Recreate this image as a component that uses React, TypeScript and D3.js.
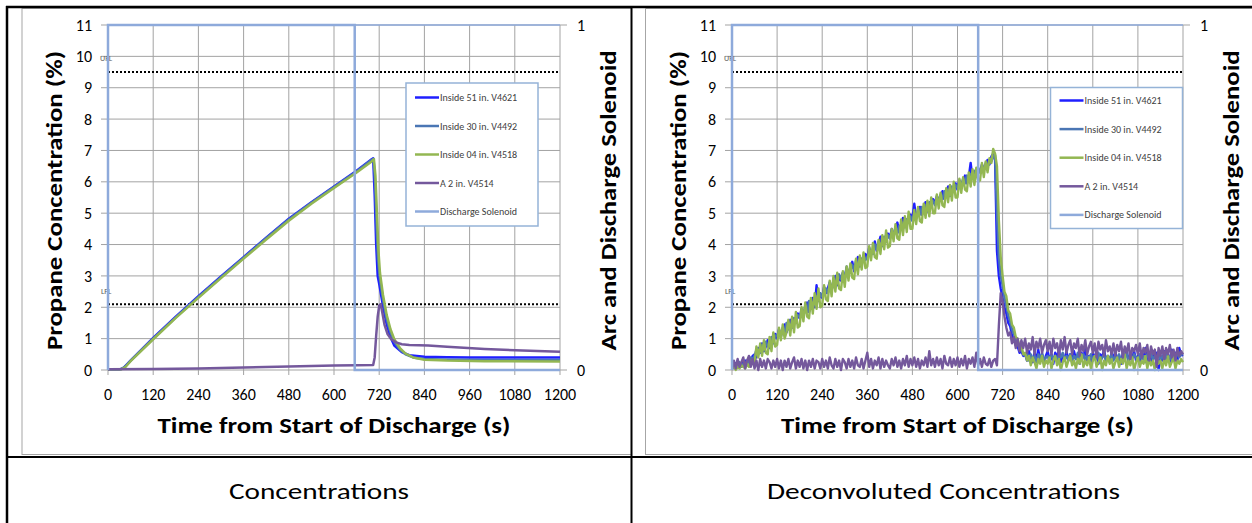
import React from 'react';
import * as d3 from 'd3';

// ---------- data ----------
const TIME_TICKS = [0, 120, 240, 360, 480, 600, 720, 840, 960, 1080, 1200];
const CONC_TICKS = [0, 1, 2, 3, 4, 5, 6, 7, 8, 9, 10, 11];
const SOLENOID_TICKS = [0, 1];
const UFL = 9.5;
const LFL = 2.1;

const SERIES_NAMES = ['Inside 51 in. V4621', 'Inside 30 in. V4492', 'Inside 04 in. V4518', 'A 2 in. V4514'];
const SOLENOID_NAME = 'Discharge Solenoid';
const SERIES_COLORS = ['#1f1fff', '#4a76b4', '#93b752', '#74589c'];
const SOLENOID_COLOR = '#8eaadb';

// Discharge solenoid state (secondary axis, 0..1)
const SOLENOID: [number, number][] = [[0, 0], [0, 1], [655, 1], [655, 0], [1200, 0]];

// Left chart: measured concentrations [time s, %]
const C_IN51: [number, number][] = [[0, 0.02], [30, 0.02], [40, 0.05], [60, 0.3], [120, 1.02], [180, 1.7], [240, 2.35], [300, 2.98], [360, 3.6], [420, 4.22], [480, 4.82], [540, 5.35], [600, 5.85], [660, 6.35], [700, 6.72], [704, 6.75], [708, 5.6], [712, 4.0], [716, 3.0], [720, 2.75], [730, 2.05], [740, 1.45], [750, 1.05], [760, 0.78], [780, 0.57], [800, 0.47], [840, 0.42], [900, 0.41], [960, 0.4], [1080, 0.4], [1200, 0.4]];
const C_IN30: [number, number][] = [[0, 0.02], [33, 0.02], [45, 0.1], [60, 0.3], [120, 1.0], [180, 1.68], [240, 2.33], [300, 2.96], [360, 3.58], [420, 4.2], [480, 4.8], [540, 5.33], [600, 5.83], [660, 6.33], [700, 6.7], [705, 6.73], [709, 6.0], [713, 4.6], [717, 3.5], [722, 2.9], [730, 2.25], [740, 1.62], [750, 1.2], [760, 0.9], [775, 0.65], [790, 0.5], [810, 0.4], [840, 0.35], [900, 0.33], [1000, 0.32], [1200, 0.32]];
const C_IN04: [number, number][] = [[0, 0.02], [35, 0.02], [45, 0.08], [60, 0.28], [120, 0.98], [180, 1.66], [240, 2.3], [300, 2.93], [360, 3.55], [420, 4.16], [480, 4.76], [540, 5.3], [600, 5.8], [660, 6.3], [700, 6.65], [706, 6.72], [710, 6.2], [714, 5.0], [718, 3.8], [722, 3.1], [730, 2.4], [740, 1.75], [750, 1.3], [760, 0.98], [775, 0.7], [790, 0.52], [810, 0.4], [840, 0.33], [900, 0.3], [1000, 0.28], [1200, 0.27]];
const C_A2: [number, number][] = [[0, 0.02], [120, 0.03], [240, 0.05], [360, 0.08], [480, 0.11], [600, 0.14], [660, 0.15], [704, 0.16], [708, 0.4], [712, 1.1], [716, 1.7], [720, 2.05], [724, 2.1], [728, 1.85], [734, 1.45], [742, 1.15], [752, 0.98], [765, 0.88], [780, 0.82], [800, 0.8], [850, 0.78], [900, 0.74], [1000, 0.67], [1100, 0.62], [1200, 0.58]];

// Right chart: deconvoluted concentrations, one reading every 5 s from 0 to 1200 s (12 per row = 60 s)
const D_TIMES = d3.range(0, 1201, 5);
const D_IN51 = [
  0.2, 0.25, 0.15, 0.3, 0.2, 0.1, 0.25, 0.3, 0.15, 0.35, 0.3, 0.45,
  0.5, 0.4, 0.7, 0.55, 0.85, 0.6, 0.75, 0.95, 0.7, 1.0, 0.85, 1.15,
  1.0, 1.3, 1.1, 1.25, 1.45, 1.2, 1.4, 1.6, 1.35, 1.65, 1.5, 1.8,
  1.65, 1.95, 1.75, 1.9, 2.15, 1.85, 2.1, 2.3, 2.0, 2.7, 2.2, 2.4,
  2.3, 2.65, 2.45, 2.6, 2.8, 2.55, 2.75, 3.0, 2.7, 2.95, 2.85, 3.1,
  2.95, 3.25, 3.05, 3.2, 3.45, 3.15, 3.35, 3.6, 3.3, 3.55, 3.45, 3.7,
  3.55, 3.9, 3.7, 3.85, 4.1, 3.8, 4.0, 4.25, 3.95, 4.2, 4.1, 4.35,
  4.2, 4.5, 4.3, 4.45, 4.7, 4.4, 4.6, 4.85, 4.55, 4.8, 4.7, 4.95,
  4.8, 5.3, 4.85, 5.0, 5.2, 4.95, 5.15, 5.35, 5.05, 5.3, 5.2, 5.45,
  5.3, 5.55, 5.4, 5.5, 5.7, 5.45, 5.65, 5.85, 5.55, 5.8, 5.7, 5.95,
  5.75, 6.05, 5.9, 6.0, 6.2, 5.95, 6.15, 6.6, 6.1, 6.3, 6.2, 6.4,
  6.3, 6.55, 6.4, 6.5, 6.7, 6.55, 6.8, 6.9, 6.7, 3.8, 3.0, 2.6,
  2.3, 2.0, 1.8, 1.5, 1.4, 1.1, 1.0, 0.8, 0.75, 0.55, 0.6, 0.45,
  0.5, 0.3, 0.6, 0.4, 0.25, 0.55, 0.35, 0.65, 0.3, 0.5, 0.2, 0.45,
  0.6, 0.3, 0.5, 0.2, 0.55, 0.4, 0.65, 0.25, 0.45, 0.35, 0.6, 0.3,
  0.5, 0.25, 0.6, 0.35, 0.45, 0.2, 0.55, 0.4, 0.7, 0.3, 0.45, 0.25,
  0.55, 0.35, 0.6, 0.2, 0.5, 0.4, 0.65, 0.3, 0.45, 0.25, 0.55, 0.35,
  0.6, 0.3, 0.45, 0.2, 0.55, 0.35, 0.65, 0.25, 0.5, 0.4, 0.6, 0.3,
  0.45, 0.2, 0.55, 0.35, 0.7, 0.3, 0.5, 0.25, 0.6, 0.4, 0.55, 0.0,
  0.45, 0.3, 0.6, 0.35, 0.5, 0.25, 0.65, 0.4, 0.55, 0.3, 0.7, 0.5,
  0.45,
];
const D_IN30 = [
  0.1, 0.2, 0.05, 0.15, 0.25, 0.1, 0.2, 0.15, 0.3, 0.2, 0.4, 0.35,
  0.45, 0.65, 0.5, 0.6, 0.8, 0.65, 0.9, 0.75, 0.85, 1.05, 0.9, 1.1,
  1.1, 1.25, 1.05, 1.35, 1.2, 1.5, 1.3, 1.45, 1.4, 1.6, 1.5, 1.75,
  1.7, 1.85, 1.8, 2.05, 1.85, 2.2, 1.95, 2.15, 2.1, 2.35, 2.25, 2.45,
  2.35, 2.5, 2.6, 2.45, 2.75, 2.6, 2.85, 2.7, 2.8, 3.05, 2.9, 3.1,
  2.9, 3.3, 3.1, 3.2, 3.35, 3.2, 3.5, 3.3, 3.55, 3.45, 3.65, 3.5,
  3.6, 3.75, 3.8, 3.7, 4.0, 3.85, 4.1, 3.9, 4.05, 4.25, 4.1, 4.3,
  4.2, 4.4, 4.3, 4.55, 4.35, 4.6, 4.5, 4.7, 4.6, 4.8, 4.75, 4.9,
  4.75, 5.0, 4.9, 5.1, 4.95, 5.2, 5.05, 5.25, 5.2, 5.35, 5.25, 5.4,
  5.25, 5.5, 5.4, 5.6, 5.45, 5.7, 5.55, 5.75, 5.7, 5.85, 5.75, 5.9,
  5.8, 6.0, 5.9, 6.1, 5.95, 6.2, 6.05, 6.25, 6.2, 6.35, 6.25, 6.45,
  6.3, 6.5, 6.4, 6.6, 6.5, 6.7, 6.65, 6.8, 6.85, 5.0, 3.6, 3.0,
  2.7, 2.3, 2.05, 1.75, 1.55, 1.3, 1.15, 0.95, 0.85, 0.7, 0.65, 0.5,
  0.45, 0.55, 0.3, 0.5, 0.35, 0.45, 0.25, 0.5, 0.35, 0.55, 0.3, 0.4,
  0.45, 0.3, 0.5, 0.35, 0.45, 0.25, 0.5, 0.4, 0.55, 0.3, 0.45, 0.35,
  0.5, 0.3, 0.45, 0.35, 0.55, 0.25, 0.4, 0.5, 0.3, 0.45, 0.35, 0.5,
  0.3, 0.45, 0.35, 0.55, 0.25, 0.4, 0.5, 0.3, 0.45, 0.35, 0.5, 0.3,
  0.45, 0.35, 0.5, 0.25, 0.45, 0.4, 0.55, 0.3, 0.45, 0.35, 0.5, 0.4,
  0.3, 0.5, 0.35, 0.45, 0.25, 0.5, 0.4, 0.55, 0.3, 0.45, 0.35, 0.5,
  0.35, 0.45, 0.3, 0.55, 0.4, 0.45, 0.3, 0.5, 0.35, 0.6, 0.4, 0.5,
  0.5,
];
const D_IN04 = [
  0.05, 0.1, 0.0, 0.1, 0.05, 0.15, 0.1, 0.05, 0.2, 0.1, 0.3, 0.2,
  0.2, 0.75, 0.4, 0.85, 0.45, 0.95, 0.55, 0.5, 1.05, 0.6, 1.2, 0.75,
  0.8, 1.35, 0.95, 1.45, 1.0, 1.2, 1.6, 1.1, 1.7, 1.2, 1.85, 1.35,
  1.4, 2.0, 1.55, 2.15, 1.7, 1.65, 2.3, 1.8, 2.45, 1.95, 2.6, 2.0,
  2.05, 2.7, 2.25, 2.2, 2.85, 2.35, 3.0, 2.5, 3.1, 2.6, 2.55, 3.15,
  2.65, 3.3, 2.85, 3.4, 2.95, 2.9, 3.55, 3.05, 3.65, 3.2, 3.75, 3.25,
  3.3, 3.95, 3.5, 4.05, 3.6, 3.55, 4.15, 3.7, 4.3, 3.85, 4.45, 3.9,
  3.95, 4.5, 4.1, 4.65, 4.2, 4.15, 4.8, 4.3, 4.9, 4.4, 5.05, 4.5,
  4.5, 5.1, 4.65, 5.2, 4.75, 4.7, 5.3, 4.85, 5.4, 4.9, 5.5, 5.0,
  5.0, 5.6, 5.15, 5.65, 5.25, 5.2, 5.8, 5.35, 5.9, 5.4, 6.0, 5.5,
  5.5, 6.1, 5.65, 6.15, 5.75, 5.7, 6.3, 5.85, 6.4, 5.9, 6.45, 6.0,
  6.05, 6.6, 6.15, 6.65, 6.3, 6.75, 6.6, 7.05, 6.9, 6.5, 4.8, 3.6,
  3.0, 2.5, 2.35, 1.9, 1.8, 1.45, 1.35, 1.05, 1.0, 0.75, 0.8, 0.5,
  0.55, 0.3, 0.45, 0.15, 0.4, 0.25, 0.05, 0.35, 0.2, 0.45, 0.1, 0.3,
  0.2, 0.4, 0.05, 0.3, 0.45, 0.15, 0.35, 0.0, 0.25, 0.4, 0.1, 0.3,
  0.45, 0.15, 0.3, 0.05, 0.35, 0.2, 0.5, 0.1, 0.3, 0.15, 0.4, 0.05,
  0.3, 0.45, 0.1, 0.25, 0.4, 0.0, 0.3, 0.15, 0.45, 0.2, 0.35, 0.05,
  0.25, 0.4, 0.1, 0.35, 0.2, 0.5, 0.05, 0.3, 0.15, 0.4, 0.0, 0.25,
  0.4, 0.1, 0.3, 0.2, 0.45, 0.05, 0.35, 0.15, 0.3, 0.0, 0.4, 0.2,
  0.3, 0.05, 0.35, 0.15, 0.45, 0.1, 0.25, 0.4, 0.05, 0.3, 0.2, 0.35,
  0.25,
];
const D_A2 = [
  0.0, 0.3, 0.05, 0.35, 0.1, 0.25, 0.4, 0.05, 0.3, 0.45, 0.1, 0.35,
  0.05, 0.3, 0.0, 0.35, 0.1, 0.3, 0.05, 0.35, 0.25, 0.05, 0.3, 0.1,
  0.35, 0.05, 0.3, 0.0, 0.3, 0.1, 0.35, 0.05, 0.25, 0.4, 0.05, 0.3,
  0.1, 0.35, 0.05, 0.3, 0.0, 0.3, 0.1, 0.35, 0.05, 0.3, 0.25, 0.05,
  0.35, 0.1, 0.3, 0.05, 0.4, 0.15, 0.05, 0.35, 0.1, 0.3, 0.0, 0.35,
  0.25, 0.05, 0.35, 0.1, 0.3, 0.05, 0.4, 0.15, 0.1, 0.35, 0.05, 0.3,
  0.55, 0.1, 0.35, 0.05, 0.3, 0.15, 0.4, 0.05, 0.35, 0.1, 0.3, 0.15,
  0.05, 0.35, 0.15, 0.4, 0.1, 0.3, 0.05, 0.35, 0.15, 0.45, 0.1, 0.35,
  0.15, 0.4, 0.1, 0.35, 0.05, 0.3, 0.15, 0.4, 0.1, 0.6, 0.15, 0.35,
  0.1, 0.4, 0.15, 0.35, 0.05, 0.45, 0.2, 0.15, 0.4, 0.1, 0.35, 0.15,
  0.4, 0.1, 0.35, 0.15, 0.45, 0.05, 0.35, 0.2, 0.4, 0.1, 0.55, 0.15,
  0.35, 0.1, 0.4, 0.2, 0.15, 0.35, 0.1, 0.3, 0.35, 0.15, 1.4, 2.45,
  2.2, 1.7, 1.35, 1.1, 1.2, 0.85, 1.05, 0.7, 1.0, 0.6, 0.95, 0.7,
  1.0, 0.55, 0.85, 0.65, 1.05, 0.5, 0.9, 0.7, 1.0, 0.55, 0.8, 0.95,
  0.6, 0.9, 0.5, 1.0, 0.7, 0.85, 0.45, 0.95, 0.65, 1.05, 0.55, 0.8,
  0.95, 0.5, 0.85, 0.7, 1.0, 0.45, 0.8, 0.6, 0.95, 0.5, 0.75, 0.9,
  0.55, 0.85, 0.4, 0.9, 0.65, 0.8, 0.45, 0.95, 0.6, 0.75, 0.5, 0.85,
  0.45, 0.8, 0.6, 0.9, 0.4, 0.75, 0.55, 0.85, 0.35, 0.7, 0.6, 0.8,
  0.5, 0.85, 0.4, 0.7, 0.55, 0.8, 0.3, 0.75, 0.5, 0.65, 0.1, 0.7,
  0.45, 0.75, 0.35, 0.7, 0.5, 0.8, 0.4, 0.65, 0.3, 0.7, 0.45, 0.6,
  0.5,
];

const zipTimes = (vals: number[]): [number, number][] => vals.map((v, i) => [D_TIMES[i], v]);

const CAPTIONS = ['Concentrations', 'Deconvoluted Concentrations'];
const Y_TITLE = 'Propane Concentration (%)';
const Y2_TITLE = 'Arc and Discharge Solenoid';
const X_TITLE = 'Time from Start of Discharge (s)';

// ---------- layout ----------
const W = 1252;
const H = 523;
const PLOT_TOP = 25;
const PLOT_BOT = 370;
const FONT = 'Carlito, Calibri, Lato, sans-serif';

type ChartProps = {
  plotLeft: number;
  plotRight: number;
  frameLeft: number;
  frameRight: number;
  legendX: number;
  legendY: number;
  legendW: number;
  legendH: number;
  legendRow0: number;
  legendGap: number;
  series: [number, number][][];
  lineWidth: number;
};

function Chart(p: ChartProps) {
  const x = d3.scaleLinear().domain([0, 1200]).range([p.plotLeft, p.plotRight]);
  const y = d3.scaleLinear().domain([0, 11]).range([PLOT_BOT, PLOT_TOP]);
  const y2 = d3.scaleLinear().domain([0, 1]).range([PLOT_BOT, PLOT_TOP]);
  const line = d3.line<[number, number]>().x(d => x(d[0])).y(d => y(d[1]));
  const line2 = d3.line<[number, number]>().x(d => x(d[0])).y(d => y2(d[1]));
  const grid = '#a3a3a3';
  const midX = (p.plotLeft + p.plotRight) / 2;
  const midY = (PLOT_TOP + PLOT_BOT) / 2 + 3;
  return (
    <g>
      <rect x={p.frameLeft} y={8.5} width={p.frameRight - p.frameLeft} height={446} fill="#fff" stroke="#a6a6a6" strokeWidth={1} />
      {/* gridlines */}
      {CONC_TICKS.map(t => (
        <line key={'h' + t} x1={p.plotLeft - 7} x2={p.plotRight} y1={y(t)} y2={y(t)} stroke={grid} strokeWidth={1} />
      ))}
      {TIME_TICKS.map(t => (
        <line key={'v' + t} x1={x(t)} x2={x(t)} y1={PLOT_TOP} y2={PLOT_BOT + 5} stroke={grid} strokeWidth={1} />
      ))}
      {SOLENOID_TICKS.map(t => (
        <line key={'r' + t} x1={p.plotRight} x2={p.plotRight + 7} y1={y2(t)} y2={y2(t)} stroke={grid} strokeWidth={1} />
      ))}
      {/* plot top border */}
      <line x1={p.plotLeft} x2={p.plotRight} y1={PLOT_TOP} y2={PLOT_TOP} stroke={SOLENOID_COLOR} strokeWidth={1.5} />
      {/* flammability limits */}
      <line x1={p.plotLeft} x2={p.plotRight} y1={y(UFL)} y2={y(UFL)} stroke="#000" strokeWidth={2} strokeDasharray="2,2" />
      <line x1={p.plotLeft} x2={p.plotRight} y1={y(LFL)} y2={y(LFL)} stroke="#000" strokeWidth={2} strokeDasharray="2,2" />
      <text x={p.plotLeft - 8} y={61} fontSize={8} fill="#595959" fontFamily={FONT}>UFL</text>
      <text x={p.plotLeft - 7} y={294} fontSize={8} fill="#595959" fontFamily={FONT}>LFL</text>
      {/* series */}
      {p.series.map((s, i) => (
        <path key={'s' + i} d={line(s) || ''} fill="none" stroke={SERIES_COLORS[i]} strokeWidth={p.lineWidth} strokeLinejoin="round" />
      ))}
      <path d={line2(SOLENOID) || ''} fill="none" stroke={SOLENOID_COLOR} strokeWidth={2.5} />
      {/* tick labels */}
      {CONC_TICKS.map(t => (
        <text key={'yl' + t} x={p.plotLeft - 16} y={y(t)} dy="0.35em" textAnchor="end" fontSize={16} fill="#000" fontFamily={FONT}>{t}</text>
      ))}
      {TIME_TICKS.map(t => (
        <text key={'xl' + t} x={x(t)} y={400} textAnchor="middle" fontSize={16} fill="#000" fontFamily={FONT}>{t}</text>
      ))}
      {SOLENOID_TICKS.map(t => (
        <text key={'y2l' + t} x={p.plotRight + 17} y={y2(t)} dy="0.35em" fontSize={16} fill="#000" fontFamily={FONT}>{t}</text>
      ))}
      {/* axis titles */}
      <text x={midX} y={433} textAnchor="middle" fontSize={22} fontWeight="bold" fontFamily={FONT} textLength={353} lengthAdjust="spacingAndGlyphs">{X_TITLE}</text>
      <text transform={`translate(${p.plotLeft - 46},${midY}) rotate(-90)`} textAnchor="middle" fontSize={22} fontWeight="bold" fontFamily={FONT} textLength={299} lengthAdjust="spacingAndGlyphs">{Y_TITLE}</text>
      <text transform={`translate(${p.plotRight + 56},${midY}) rotate(-90)`} textAnchor="middle" fontSize={22} fontWeight="bold" fontFamily={FONT} textLength={300} lengthAdjust="spacingAndGlyphs">{Y2_TITLE}</text>
      {/* legend */}
      <rect x={p.legendX} y={p.legendY} width={p.legendW} height={p.legendH} fill="#fff" stroke="#95b3d7" strokeWidth={1.5} />
      {[...SERIES_NAMES, SOLENOID_NAME].map((name, i) => {
        const ly = p.legendRow0 + i * p.legendGap;
        const col = i < 4 ? SERIES_COLORS[i] : SOLENOID_COLOR;
        return (
          <g key={'lg' + i}>
            <line x1={p.legendX + 9} x2={p.legendX + 33} y1={ly} y2={ly} stroke={col} strokeWidth={2.5} />
            <text x={p.legendX + 34} y={ly} dy="0.35em" fontSize={10} fill="#404040" fontFamily={FONT}>{name}</text>
          </g>
        );
      })}
    </g>
  );
}

export default function App() {
  const leftSeries = [C_IN51, C_IN30, C_IN04, C_A2];
  const rightSeries = [zipTimes(D_IN51), zipTimes(D_IN30), zipTimes(D_IN04), zipTimes(D_A2)];
  return (
    <svg width={W} height={H} style={{ position: 'absolute', left: 0, top: 0, background: '#fff' }}>
      <rect x={0} y={0} width={W} height={H} fill="#fff" />
      <Chart plotLeft={108} plotRight={560} frameLeft={22} frameRight={640} legendX={406} legendY={83} legendW={132} legendH={143} legendRow0={97.5} legendGap={28.5} series={leftSeries} lineWidth={2.5} />
      <Chart plotLeft={732} plotRight={1183} frameLeft={645.5} frameRight={1262} legendX={1050.5} legendY={87.5} legendW={132} legendH={141} legendRow0={100.5} legendGap={28.6} series={rightSeries} lineWidth={2.4} />
      {/* table borders */}
      <rect x={0} y={0} width={6} height={H} fill="#fff" />
      <rect x={631} y={0} width={14} height={455} fill="#fff" />
      <line x1={631.5} x2={631.5} y1={6} y2={H} stroke="#000" strokeWidth={2} />
      <line x1={7} x2={7} y1={6} y2={H} stroke="#000" strokeWidth={2.5} />
      <line x1={6} x2={W} y1={7} y2={7} stroke="#000" strokeWidth={2.5} />
      <line x1={6} x2={W} y1={457} y2={457} stroke="#000" strokeWidth={2} />
      <line x1={645.5} x2={645.5} y1={8.5} y2={454.5} stroke="#a6a6a6" strokeWidth={1} />
      {/* captions */}
      <text x={319} y={499} textAnchor="middle" fontSize={23} fontFamily={FONT} fill="#000" textLength={180} lengthAdjust="spacingAndGlyphs">{CAPTIONS[0]}</text>
      <text x={943.5} y={499} textAnchor="middle" fontSize={23} fontFamily={FONT} fill="#000" textLength={353} lengthAdjust="spacingAndGlyphs">{CAPTIONS[1]}</text>
    </svg>
  );
}
